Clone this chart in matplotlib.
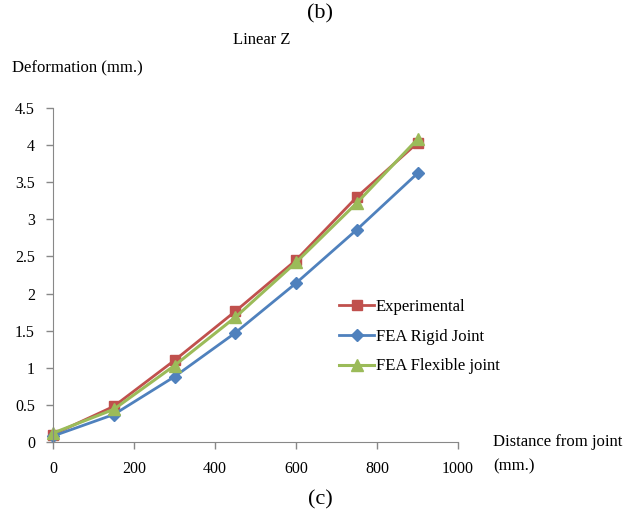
import matplotlib
matplotlib.use("Agg")
import matplotlib.pyplot as plt

# Valores (Linear Z)
distancia = [0, 150, 300, 450, 600, 750, 900]
experimental = [0.10, 0.48, 1.10, 1.76, 2.45, 3.30, 4.03]
fea_rigido = [0.08, 0.37, 0.88, 1.47, 2.14, 2.86, 3.62]
fea_flexivel = [0.12, 0.44, 1.03, 1.68, 2.42, 3.22, 4.08]

y_ticks = [0, 0.5, 1, 1.5, 2, 2.5, 3, 3.5, 4, 4.5]
y_labels = ["0", "0.5", "1", "1.5", "2", "2.5", "3", "3.5", "4", "4.5"]
x_ticks = [0, 200, 400, 600, 800, 1000]

plt.rcParams['font.family'] = ['Liberation Serif', 'DejaVu Serif']

W, H = 639, 515
fig = plt.figure(figsize=(W/100, H/100), dpi=100)
ax = fig.add_axes([53/W, 1-442/H, (458-53)/W, (442-108)/H])

ax.plot(distancia, experimental, color='#C0504D', lw=2, marker='s', ms=7, label='Experimental')
ax.plot(distancia, fea_rigido, color='#4F81BD', lw=2, marker='D', ms=6, label='FEA Rigid Joint')
ax.plot(distancia, fea_flexivel, color='#9BBB59', lw=2.2, marker='^', ms=9, label='FEA Flexible joint')

ax.set_xlim(0, 1000)
ax.set_ylim(0, 4.5)
ax.set_xticks(x_ticks)
ax.set_yticks(y_ticks)
ax.set_yticklabels(y_labels)
ax.tick_params(labelsize=11.5, colors='#888888', length=5, width=1, labelcolor='black')
ax.tick_params(axis='y', pad=8)
ax.tick_params(axis='x', pad=9)
for s in ['top', 'right']:
    ax.spines[s].set_visible(False)
for s in ['left', 'bottom']:
    ax.spines[s].set_color('#888888')
ax.margins(0)
for lbl in ax.get_xticklabels() + ax.get_yticklabels():
    lbl.set_clip_on(False)
for l in ax.lines:
    l.set_clip_on(False)

ax.legend(loc='upper left', bbox_to_anchor=(324/W, 1-284/H), bbox_transform=fig.transFigure,
          frameon=False, fontsize=12, handlelength=2.1, handletextpad=0.1, labelspacing=0.82)

fig.text(320/W, 1-14/H, '(b)', ha='center', va='center', fontsize=16)
fig.text(262/W, 1-40/H, 'Linear Z', ha='center', va='center', fontsize=12)
fig.text(12/W, 1-68/H, 'Deformation (mm.)', ha='left', va='center', fontsize=12)
fig.text(493/W, 1-442/H, 'Distance from joint', ha='left', va='center', fontsize=12)
fig.text(493/W, 1-466/H, '(mm.)', ha='left', va='center', fontsize=12)
fig.text(320/W, 1-500/H, '(c)', ha='center', va='center', fontsize=16)

fig.savefig('out.png', dpi=100)
